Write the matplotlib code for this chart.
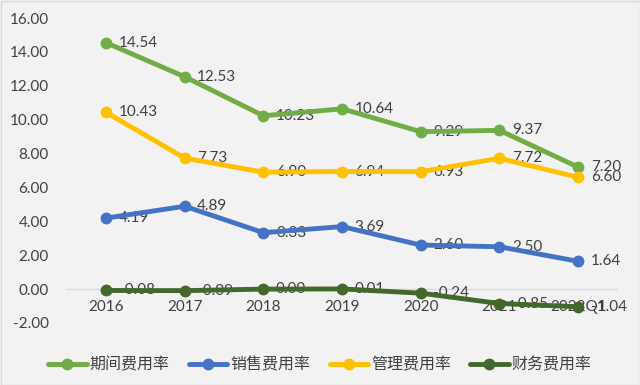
import matplotlib
matplotlib.use("Agg")
import matplotlib.pyplot as plt
from matplotlib.patches import Rectangle

plt.rcParams['font.family'] = ['Lato', 'Noto Sans CJK SC', 'DejaVu Sans']

categories = ["2016", "2017", "2018", "2019", "2020", "2021", "2022Q1"]
qijian = [14.54, 12.53, 10.23, 10.64, 9.29, 9.37, 7.20]
xiaoshou = [4.19, 4.89, 3.33, 3.69, 2.60, 2.50, 1.64]
guanli = [10.43, 7.73, 6.90, 6.94, 6.93, 7.72, 6.60]
caiwu = [-0.08, -0.09, 0.00, 0.01, -0.24, -0.85, -1.04]

series = [
    ("期间费用率", qijian, "#70AD47"),
    ("销售费用率", xiaoshou, "#4472C4"),
    ("管理费用率", guanli, "#FFC000"),
    ("财务费用率", caiwu, "#43682B"),
]

bg = "#F2F2F2"
txt = "#404040"

fig = plt.figure(figsize=(6.4, 3.85), dpi=100, facecolor=bg)
ax = fig.add_axes([66.7/640, (385-323)/385, (617.5-66.7)/640, (323-18)/385])
ax.set_facecolor(bg)

x = list(range(len(categories)))
for name, vals, col in series:
    ax.plot(x, vals, color=col, lw=3.5, marker='o', ms=7.5, label=name,
            solid_capstyle='round', zorder=3)
    for xi, v in zip(x, vals):
        ax.annotate(f"{v:.2f}", (xi, v), xytext=(9, 0), textcoords='offset points',
                    ha='left', va='center', fontsize=11, color=txt, zorder=2)

ax.set_xlim(-0.5, len(categories) - 0.5)
ax.set_ylim(-2, 16)
ax.set_yticks(range(-2, 17, 2))
ax.set_yticklabels([f"{t:.2f}" for t in range(-2, 17, 2)])
ax.set_xticks(x)
ax.set_xticklabels(categories)

for s in ['top', 'right', 'left']:
    ax.spines[s].set_visible(False)
ax.spines['bottom'].set_position(('data', 0))
ax.spines['bottom'].set_color('#D9D9D9')
ax.spines['bottom'].set_linewidth(1)
ax.spines['bottom'].set_zorder(1)
ax.tick_params(axis='both', length=0, labelsize=11, colors=txt)
ax.tick_params(axis='y', pad=13)
ax.tick_params(axis='x', pad=8)

leg = fig.legend(loc='center', bbox_to_anchor=(0.5, (385-365)/385), ncol=4,
                 frameon=False, fontsize=11.5, handlelength=2.4,
                 handletextpad=0.2, columnspacing=1.2)
for t in leg.get_texts():
    t.set_color(txt)

fig.patches.append(Rectangle((0.5/640, 0.5/385), 1-1/640, 1-1/385, transform=fig.transFigure,
                             fill=False, edgecolor='#D9D9D9', lw=1))

fig.savefig("out.png", dpi=100, facecolor=bg)
